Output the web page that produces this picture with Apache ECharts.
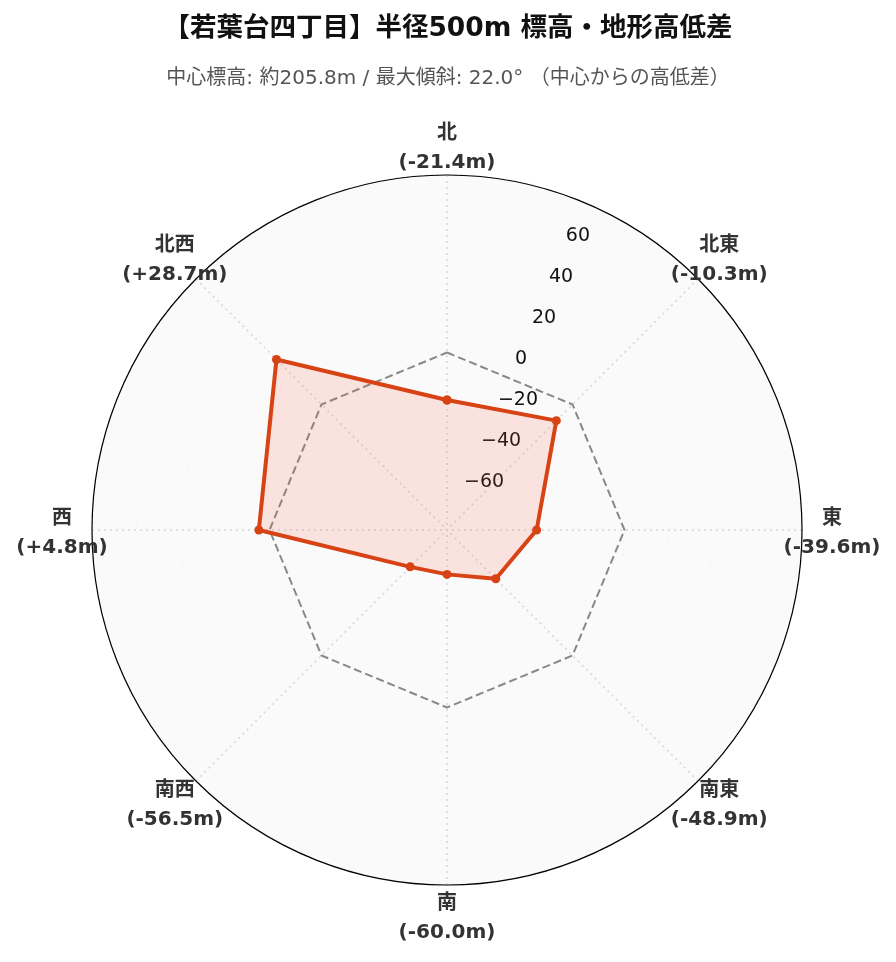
<!DOCTYPE html>
<html><head><meta charset="utf-8">
<script src="https://cdn.jsdelivr.net/npm/echarts@6/dist/echarts.min.js"></script>
<style>html,body{margin:0;padding:0;background:#fff}#c{width:896px;height:962px}</style>
</head><body><div id="c"></div>
<script>
const titleText = '【若葉台四丁目】半径500m 標高・地形高低差';
const subtitleText = '中心標高: 約205.8m / 最大傾斜: 22.0° （中心からの高低差）';
const directions = ['北', '北東', '東', '南東', '南', '南西', '西', '北西'];
const elevDiff = [-21.4, -10.3, -39.6, -48.9, -60.0, -56.5, 4.8, 28.7];
const referenceLevel = [0, 0, 0, 0, 0, 0, 0, 0];
const radiusTicks = [-60, -40, -20, 0, 20, 40, 60];
const rMin = -80, rMax = 80, rStep = 20;

const FONT = '"DejaVu Sans", "Noto Sans CJK JP", sans-serif';
const step = 360 / directions.length;
const angleOf = i => i * step;
const closed = arr => arr.map((v, i) => [v, angleOf(i)]).concat([[arr[0], 360]]);
const fmtDiff = v => '(' + (v > 0 ? '+' : '') + v.toFixed(1) + 'm)';

const center = [447, 530];
const R = 355;

const chart = echarts.init(document.getElementById('c'), null, {renderer: 'canvas'});
chart.setOption({
  backgroundColor: '#ffffff',
  animation: false,
  title: [
    {text: titleText, left: 'center', top: 11,
     textStyle: {fontFamily: FONT, fontSize: 26.5, fontWeight: 'bold', color: '#111'}},
    {text: subtitleText, left: 'center', top: 64,
     textStyle: {fontFamily: FONT, fontSize: 20, fontWeight: 'normal', color: '#555'}}
  ],
  polar: [
    {center: center, radius: R},
    {center: center, radius: R},
    {center: center, radius: 385}
  ],
  angleAxis: [
    {polarIndex: 0, type: 'value', min: 0, max: 360, interval: step, startAngle: 90, clockwise: true,
     axisLine: {show: true, lineStyle: {color: '#000', width: 1.2}},
     axisTick: {show: false}, axisLabel: {show: false},
     splitLine: {show: true, lineStyle: {color: '#d2d6d8', type: [2, 4], width: 1.5}}},
    {polarIndex: 1, type: 'value', min: 0, max: 360, startAngle: 90 - step / 2, clockwise: true,
     axisLine: {show: false}, axisTick: {show: false}, axisLabel: {show: false}, splitLine: {show: false}},
    {polarIndex: 2, type: 'value', min: 0, max: 360, startAngle: 90, clockwise: true,
     axisLine: {show: false}, axisTick: {show: false}, axisLabel: {show: false}, splitLine: {show: false}}
  ],
  radiusAxis: [
    {polarIndex: 0, type: 'value', min: rMin, max: rMax, interval: rStep,
     axisLine: {show: false}, axisTick: {show: false}, axisLabel: {show: false},
     splitLine: {show: true, lineStyle: {color: '#d2d6d8', type: [2, 4], width: 1.5}},
     splitArea: {show: true, areaStyle: {color: ['#fafafa', '#fafafa']}}},
    {polarIndex: 1, type: 'value', min: rMin, max: rMax, interval: rStep,
     axisLine: {show: false}, axisTick: {show: false}, splitLine: {show: false},
     axisLabel: {show: true, fontFamily: FONT, fontSize: 19, color: '#111', margin: 0,
       align: 'left', verticalAlign: 'bottom', padding: [0, 0, -3, 0],
       formatter: v => radiusTicks.indexOf(v) >= 0 ? (v < 0 ? '\u2212' + Math.abs(v) : String(v)) : ''}},
    {polarIndex: 2, type: 'value', min: 0, max: 1, show: false}
  ],
  series: [
    {type: 'line', coordinateSystem: 'polar', polarIndex: 0, data: closed(referenceLevel),
     symbol: 'none', lineStyle: {color: '#888', width: 2, type: [8, 4]}, z: 2, silent: true},
    {type: 'line', coordinateSystem: 'polar', polarIndex: 0, data: closed(elevDiff),
     symbol: 'circle', symbolSize: 9, showSymbol: true,
     lineStyle: {color: '#D84315', width: 4}, itemStyle: {color: '#D84315'},
     areaStyle: {color: 'rgba(255,95,60,0.2)', origin: 'start'}, z: 3},
    {type: 'scatter', coordinateSystem: 'polar', polarIndex: 2,
     data: directions.map((d, i) => [1, angleOf(i)]),
     symbol: 'circle', symbolSize: 1, itemStyle: {color: 'rgba(0,0,0,0)', opacity: 1},
     label: {show: true, position: 'inside', offset: [0, 3], color: '#333', fontFamily: FONT, fontWeight: 'bold',
       fontSize: 20, lineHeight: 29, align: 'center', verticalAlign: 'middle',
       formatter: p => directions[p.dataIndex] + '\n' + fmtDiff(elevDiff[p.dataIndex])}}
  ]
});
</script>
</body></html>
